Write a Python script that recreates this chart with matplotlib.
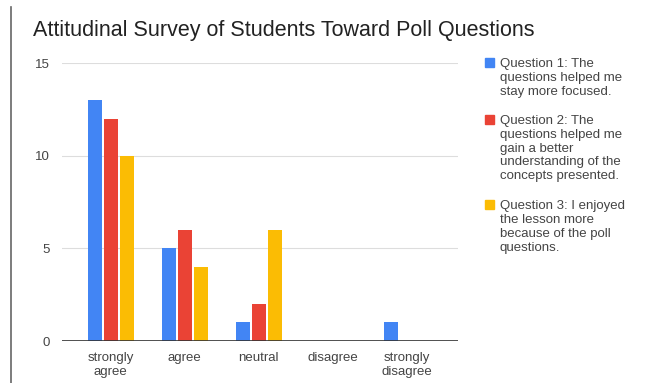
import matplotlib.pyplot as plt
import numpy as np
from matplotlib.patches import Rectangle
from matplotlib.lines import Line2D

categories = ["strongly\nagree", "agree", "neutral", "disagree", "strongly\ndisagree"]
q1 = [13, 5, 1, 0, 1]
q2 = [12, 6, 2, 0, 0]
q3 = [10, 4, 6, 0, 0]
series_labels = [
    "Question 1: The\nquestions helped me\nstay more focused.",
    "Question 2: The\nquestions helped me\ngain a better\nunderstanding of the\nconcepts presented.",
    "Question 3: I enjoyed\nthe lesson more\nbecause of the poll\nquestions.",
]
colors = ["#4285F4", "#EA4335", "#FBBC04"]

plt.rcParams["font.family"] = ["Liberation Sans", "DejaVu Sans"]

W, H = 648, 383
fig = plt.figure(figsize=(W / 100, H / 100), dpi=100)
ax = fig.add_axes([62 / W, 1 - 341 / H, 396 / W, 278 / H])

x = np.arange(len(categories))
offset = 0.216
width = 0.195
for i, (vals, col) in enumerate(zip([q1, q2, q3], colors)):
    ax.bar(x + (i - 1) * offset, vals, width, color=col, zorder=3)

ax.set_xlim(-0.66, 4.69)
ax.set_ylim(0, 15)
ax.set_yticks([0, 5, 10, 15])
ax.set_xticks(x)
ax.set_xticklabels(categories, linespacing=1.2)
ax.tick_params(axis="both", length=0, labelsize=9.5, colors="#444444")
ax.tick_params(axis="y", pad=9)
ax.tick_params(axis="x", pad=8)
ax.grid(axis="y", color="#dddddd", linewidth=0.8, zorder=0)
for s in ax.spines.values():
    s.set_visible(False)
ax.axhline(0, color="#333333", linewidth=1.2, zorder=4)

fig.text(33 / W, 1 - 36 / H, "Attitudinal Survey of Students Toward Poll Questions",
         fontsize=15.5, color="#222222", va="baseline", ha="left")

# legend, drawn by hand so the square sits on the first line
top = 58
for lab, col in zip(series_labels, colors):
    fig.patches.append(Rectangle((485 / W, 1 - (top + 9) / H), 9 / W, 9 / H,
                                 transform=fig.transFigure, color=col))
    fig.text(500 / W, 1 - top / H, lab, fontsize=9.5, color="#444444",
             va="top", ha="left", linespacing=1.2)
    top += 14.3 * len(lab.split("\n")) + 14

fig.lines.append(Line2D([11 / W, 11 / W], [0, 1 - 7 / H], transform=fig.transFigure,
                        color="#666666", linewidth=1.2))

fig.savefig("out.png", dpi=100)
